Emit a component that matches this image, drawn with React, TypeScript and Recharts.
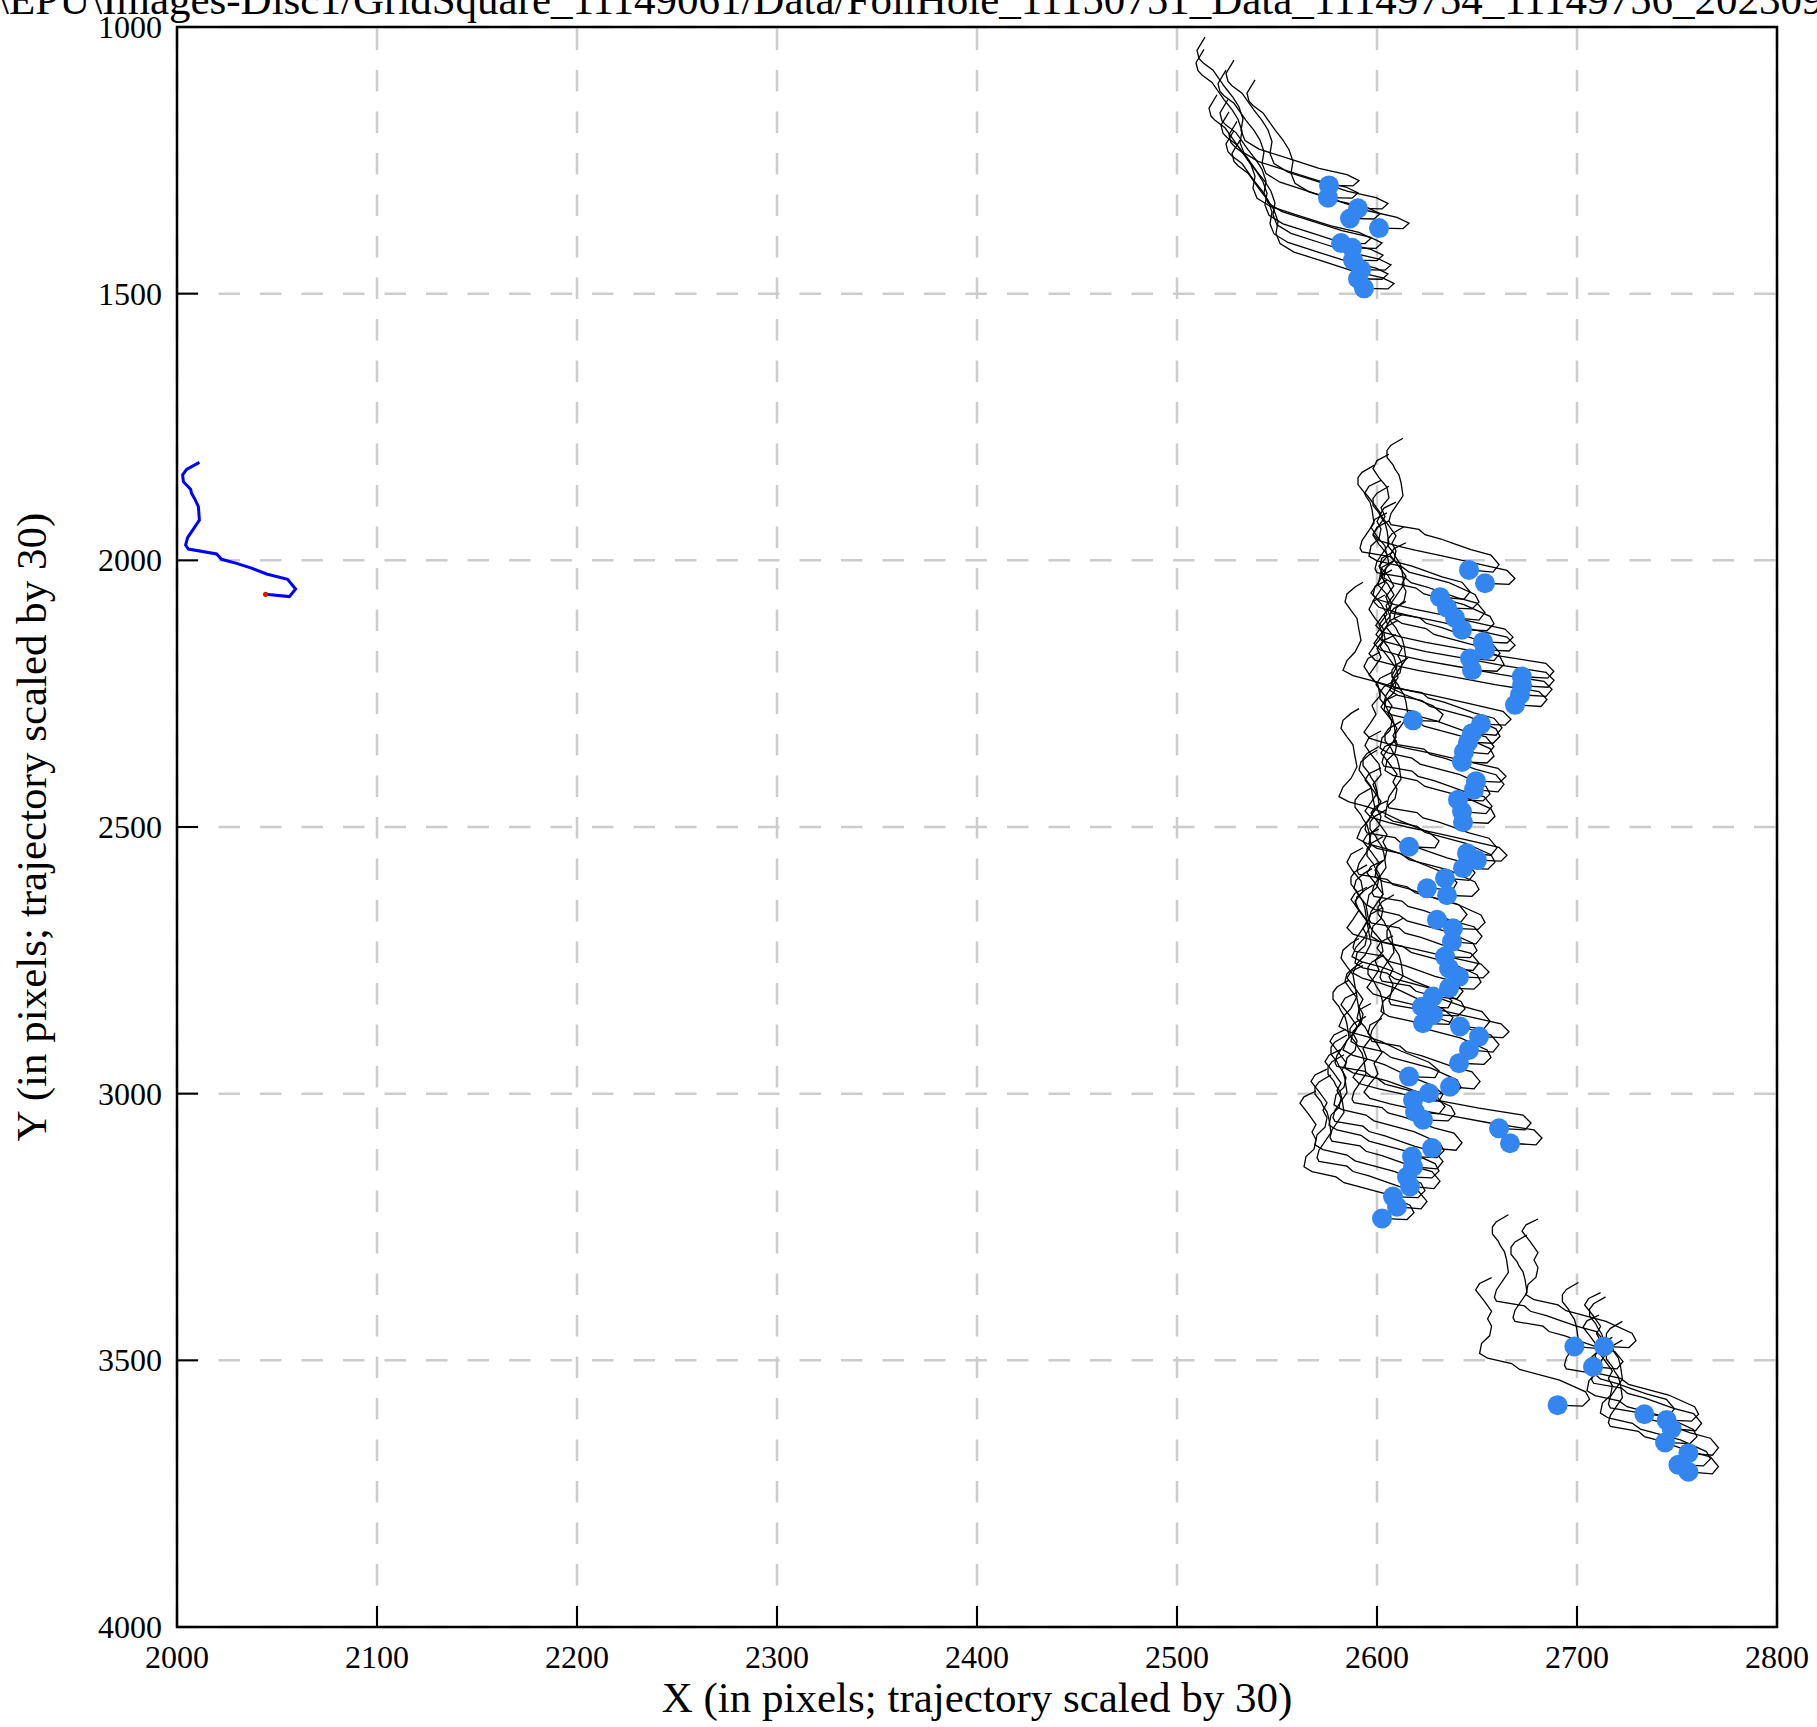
import React from "react";
import { LineChart, Line, XAxis, YAxis, CartesianGrid, ReferenceArea } from "recharts";

const FONT = '"Liberation Serif", "DejaVu Serif", serif';
const DOT_BLUE = "#3386f0";

const X_TICKS = [2000, 2100, 2200, 2300, 2400, 2500, 2600, 2700, 2800];
const Y_TICKS = [1000, 1500, 2000, 2500, 3000, 3500, 4000];

const TITLE =
  "X:\\EPU\\Images-Disc1/GridSquare_11149061/Data/FoilHole_11150751_Data_11149754_11149756_20230906_101734_fractions.tiff";
const X_LABEL = "X (in pixels; trajectory scaled by 30)";
const Y_LABEL = "Y (in pixels; trajectory scaled by 30)";

// trajectory shapes, as offsets (scaled x30) from the particle's end point
const SHAPE_A = [
  [0, 0], [12, 4], [15, -10], [11, -28], [1, -38], [-8, -50], [-14, -58], [-22, -66], [-25, -76],
  [-39, -85], [-40, -92], [-39, -106], [-33, -139], [-34, -164], [-35, -178], [-37, -189],
  [-38, -197], [-41, -211], [-41, -224], [-39, -234], [-33, -247],
];
const SHAPE_B = [
  [0, 0], [12.5, 2], [16, -11], [14, -25], [1, -47], [-19, -67], [-23, -78], [-35, -88], [-39, -97],
  [-38, -116], [-34, -130], [-33, -148], [-35, -162], [-33, -176], [-37, -197], [-41, -216],
  [-39, -228], [-33, -239],
];
const SHAPE_N = [
  [0, 0], [13, 2], [15, -11], [10, -27], [-4, -48], [-14, -66], [-21, -75], [-30, -84], [-35, -94],
  [-33, -112], [-29, -128], [-26, -150], [-27, -169], [-28, -191], [-31, -206], [-34, -222],
  [-33, -237], [-29, -250], [-25, -259],
];
const SHAPE_W = [
  [0, 0], [12, 2], [15, -9], [11, -24], [-8, -40], [-22, -52], [-35, -62], [-44, -70], [-53, -80],
  [-56, -92], [-53, -108], [-50, -125], [-52, -142], [-48, -160], [-49, -180], [-53, -198],
  [-56, -215], [-54, -230], [-48, -242],
];
const SHAPE_X = [
  [0, 0], [13, 3], [16, -10], [12, -25], [-10, -38], [-30, -52], [-48, -64], [-60, -74], [-70, -84],
  [-73, -96], [-70, -112], [-66, -130], [-68, -150], [-64, -170], [-67, -190], [-71, -206],
  [-70, -222], [-64, -234],
];
const SHAPE_C = [
  [0, 0], [12, 1], [15, -9], [9, -20], [-5, -32], [-20, -50], [-35, -68], [-42, -84], [-44, -103],
  [-43, -125], [-45, -147], [-48, -165], [-52, -184], [-58, -216], [-63, -230], [-65, -238],
  [-66, -253], [-62, -278],
];
const SHAPES: Record<string, number[][]> = {
  A: SHAPE_A, B: SHAPE_B, N: SHAPE_N, W: SHAPE_W, X: SHAPE_X, C: SHAPE_C,
};

// particle end points [x, y, shape]
const TOP_DOTS: [number, number, string][] = [
  [2576, 1297, "C"], [2575.5, 1320, "C"], [2590.5, 1340, "C"], [2586.5, 1359, "C"],
  [2601, 1377, "C"], [2582, 1405, "C"], [2587.5, 1414, "C"], [2588, 1437, "C"],
  [2592, 1455, "C"], [2590.5, 1472, "C"], [2593.5, 1490, "C"],
];
const MIDDLE_DOTS: [number, number, string][] = [
  [2646, 2018, "A"], [2654, 2043, "W"], [2631.5, 2069, "A"], [2635, 2089, "B"],
  [2639, 2108, "A"], [2642.5, 2130, "B"], [2653, 2153, "W"], [2654, 2168, "W"],
  [2646.5, 2184, "A"], [2647.5, 2206, "B"], [2672.4, 2218, "X"], [2672.5, 2235, "X"],
  [2671.5, 2252, "X"], [2669, 2271, "X"], [2618, 2300, "N"], [2652, 2307, "W"],
  [2647.5, 2324, "A"], [2645.5, 2341, "B"], [2643.5, 2359, "A"], [2642.5, 2378, "B"],
  [2649.5, 2414, "W"], [2648.5, 2430, "A"], [2640.5, 2449, "B"], [2642.5, 2471, "A"],
  [2643, 2491, "B"], [2616, 2537, "N"], [2645, 2549, "A"], [2650, 2562, "W"],
  [2643, 2577, "B"], [2634, 2596, "A"], [2625, 2615, "N"], [2635, 2628, "B"],
  [2630, 2674, "A"], [2638, 2690, "B"], [2637.5, 2715, "A"], [2634, 2743, "B"],
  [2636, 2765, "A"], [2641, 2781, "W"], [2636, 2802, "B"], [2628, 2818, "A"],
  [2622.5, 2837, "N"], [2628, 2852, "B"], [2623, 2868, "N"], [2641.5, 2874, "A"],
  [2651, 2893, "W"], [2646, 2918, "A"], [2641, 2943, "B"], [2616, 2968, "N"],
  [2636.5, 2987, "A"], [2626, 2999, "B"], [2618, 3012, "N"], [2619, 3034, "A"],
  [2623, 3049, "B"], [2661, 3065, "X"], [2666.5, 3093, "X"], [2627.5, 3102, "A"],
  [2617.5, 3118, "B"], [2618, 3137, "A"], [2615, 3156, "B"], [2616.5, 3174, "A"],
  [2608, 3193, "B"], [2610, 3212, "A"], [2602.5, 3234, "B"],
];
const BOTTOM_DOTS: [number, number, string][] = [
  [2690.3, 3584, "B"], [2698.7, 3474, "A"], [2713.5, 3474, "B"], [2708, 3512, "A"],
  [2733.7, 3601, "A"], [2744.8, 3612, "B"], [2747.3, 3628, "A"], [2744, 3654, "B"],
  [2755.7, 3674, "A"], [2750.7, 3696, "B"], [2755.7, 3709, "A"],
];

// mean trajectory (blue) and its end point (red)
const MEAN_X = [
  2044.3, 2056.2, 2059.3, 2055.3, 2044.8, 2036.5, 2029.8, 2022.3, 2019.8, 2005.7, 2004.3,
  2005.3, 2011.2, 2010.7, 2009, 2007.3, 2006.8, 2003.2, 2002.8, 2004.8, 2011.2,
];
const MEAN_Y = [
  2063.7, 2068, 2053.8, 2035.6, 2025.6, 2013.8, 2005.6, 1998.1, 1988.1, 1978.8, 1971.3,
  1957.5, 1924.4, 1899.4, 1885.6, 1874.4, 1866.9, 1852.5, 1840, 1829.4, 1816.3,
];

const allDots = [...TOP_DOTS, ...MIDDLE_DOTS, ...BOTTOM_DOTS];
const dotData = allDots.map(([x, y]) => ({ x, y }));
const tracks = allDots.map(([x, y, s]) => SHAPES[s].map(([dx, dy]) => ({ x: x + dx, y: y + dy })));
const meanTrack = MEAN_X.map((x, i) => ({ x, y: MEAN_Y[i] }));
const meanEnd = [meanTrack[0]];

const XTick = (props: any) => {
  const { x, y, payload } = props;
  return (
    <g>
      <line x1={x} y1={y} x2={x} y2={y - 21} stroke="#000" strokeWidth={2} />
      <text x={x} y={y + 41} textAnchor="middle" fontFamily={FONT} fontSize={32} fill="#000">
        {payload.value}
      </text>
    </g>
  );
};

const YTick = (props: any) => {
  const { x, y, payload } = props;
  return (
    <g>
      <line x1={x} y1={y} x2={x + 21} y2={y} stroke="#000" strokeWidth={2} />
      <text x={x - 15} y={y + 11} textAnchor="end" fontFamily={FONT} fontSize={32} fill="#000">
        {payload.value}
      </text>
    </g>
  );
};

const gridStyle = { stroke: "#cccccc", strokeWidth: 2.5, strokeDasharray: "21.5 20", fill: "none" };

// vertical grid lines drawn bottom-up so the dash pattern starts at the x axis
const VerticalGridLine = (p: any) => (
  <line key={`v-${p.x1}`} x1={p.x1} y1={p.y2} x2={p.x2} y2={p.y1} {...gridStyle} />
);

const App: React.FC = () => {
  return (
    <div style={{ position: "absolute", left: 0, top: 0, width: 1817, height: 1727, overflow: "hidden", background: "#fff" }}>
      <LineChart width={1817} height={1727} margin={{ top: 27, right: 40, left: 77, bottom: 40 }}>
        <CartesianGrid {...gridStyle} vertical={VerticalGridLine} />
        <XAxis
          type="number"
          dataKey="x"
          domain={[2000, 2800]}
          ticks={X_TICKS}
          interval={0}
          allowDataOverflow
          height={60}
          tickSize={0}
          tickMargin={0}
          axisLine={false}
          tickLine={false}
          tick={<XTick />}
        />
        <YAxis
          type="number"
          dataKey="y"
          domain={[1000, 4000]}
          ticks={Y_TICKS}
          interval={0}
          reversed
          allowDataOverflow
          width={100}
          tickSize={0}
          tickMargin={0}
          axisLine={false}
          tickLine={false}
          tick={<YTick />}
        />
        <ReferenceArea x1={2000} x2={2800} y1={1000} y2={4000} fill="none" stroke="#000" strokeWidth={2.5} />
        <Line
          data={dotData}
          dataKey="y"
          stroke="none"
          dot={{ r: 10, fill: DOT_BLUE, stroke: "none" }}
          activeDot={false}
          isAnimationActive={false}
        />
        {tracks.map((t, i) => (
          <Line
            key={`track-${i}`}
            data={t}
            dataKey="y"
            type="linear"
            stroke="#000"
            strokeWidth={1.3}
            dot={false}
            activeDot={false}
            isAnimationActive={false}
          />
        ))}
        <Line
          data={meanTrack}
          dataKey="y"
          type="linear"
          stroke="#0000ff"
          strokeWidth={3}
          dot={false}
          activeDot={false}
          isAnimationActive={false}
        />
        <Line
          data={meanEnd}
          dataKey="y"
          stroke="none"
          dot={{ r: 2.6, fill: "#ff0000", stroke: "none" }}
          activeDot={false}
          isAnimationActive={false}
        />
      </LineChart>
      <svg width={1817} height={1727} style={{ position: "absolute", left: 0, top: 0, pointerEvents: "none" }}>
        <text x={-46} y={14} fontFamily={FONT} fontSize={43} fill="#000">
          {TITLE}
        </text>
        <text x={977} y={1712} textAnchor="middle" fontFamily={FONT} fontSize={43} fill="#000">
          {X_LABEL}
        </text>
        <text transform="translate(46,827) rotate(-90)" textAnchor="middle" fontFamily={FONT} fontSize={43} fill="#000">
          {Y_LABEL}
        </text>
      </svg>
    </div>
  );
};

export default App;
